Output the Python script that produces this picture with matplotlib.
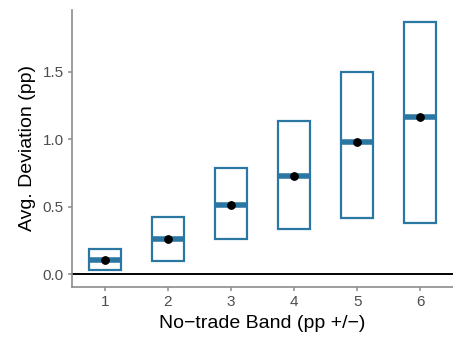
import numpy as np
import matplotlib
matplotlib.use("Agg")
from matplotlib import pyplot as plt
from matplotlib.patches import Rectangle

plt.rcParams["font.family"] = ["Liberation Sans", "DejaVu Sans"]

# No-trade band width (pp +/-) and deviation summary per band
bands = [1, 2, 3, 4, 5, 6]
lower = [0.03, 0.10, 0.26, 0.335, 0.415, 0.38]
middle = [0.105, 0.265, 0.517, 0.727, 0.981, 1.168]
upper = [0.185, 0.426, 0.786, 1.138, 1.495, 1.865]

box_color = "#2b77a3"
axis_gray = "#8c8c8c"

fig = plt.figure(figsize=(4.53, 3.40), dpi=100)
ax = fig.add_axes([0.159, 0.156, 0.841, 0.815])

# Zero reference line
ax.axhline(0, color="black", lw=1.4, zorder=1)

half = 0.25
for x, lo, mid, hi in zip(bands, lower, middle, upper):
    ax.add_patch(Rectangle((x - half, lo), 2 * half, hi - lo,
                           facecolor="none", edgecolor=box_color, lw=1.6, zorder=2))
    ax.plot([x - half, x + half], [mid, mid], color=box_color, lw=4,
            solid_capstyle="butt", zorder=3)

ax.scatter(bands, middle, s=28, color="black", zorder=4)

ax.set_xlim(0.48, 6.52)
ax.set_ylim(-0.093, 1.958)
ax.set_xticks(bands)
ax.set_yticks([0.0, 0.5, 1.0, 1.5])
ax.set_yticklabels(["0.0", "0.5", "1.0", "1.5"])

for side in ["top", "right"]:
    ax.spines[side].set_visible(False)
for side in ["left", "bottom"]:
    ax.spines[side].set_color(axis_gray)
    ax.spines[side].set_linewidth(1.2)

ax.tick_params(axis="both", colors=axis_gray, labelcolor="#4d4d4d",
               labelsize=11, length=3, width=1.1, pad=3)

ax.set_xlabel("No\u2212trade Band (pp +/\u2212)", fontsize=14, color="black", labelpad=4)
ax.set_ylabel("Avg. Deviation (pp)", fontsize=14, color="black", labelpad=5)

plt.savefig("out.png", dpi=100)
plt.close()
